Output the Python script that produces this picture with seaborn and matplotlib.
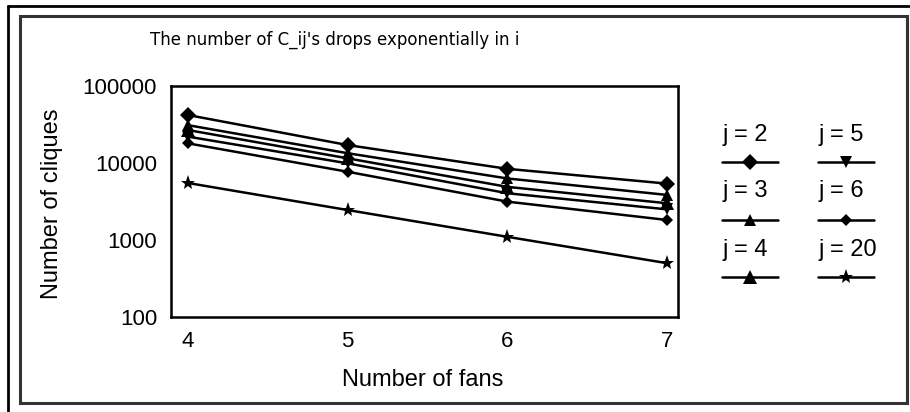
import numpy as np
import pandas as pd
import matplotlib.pyplot as plt
import seaborn as sns
from matplotlib.lines import Line2D
from matplotlib.patches import Rectangle

# data
fans = [4, 5, 6, 7]
j_labels = ['j = 2', 'j = 3', 'j = 4', 'j = 5', 'j = 6', 'j = 20']
cliques_j2 = [42000, 17100, 8400, 5400]
cliques_j3 = [31000, 13400, 6300, 3850]
cliques_j4 = [26800, 11500, 4900, 3000]
cliques_j5 = [22000, 9900, 4050, 2500]
cliques_j6 = [18000, 7700, 3150, 1820]
cliques_j20 = [5500, 2450, 1100, 500]
y_ticks = [100, 1000, 10000, 100000]

series = [cliques_j2, cliques_j3, cliques_j4, cliques_j5, cliques_j6, cliques_j20]
df = pd.DataFrame({
    'fans': fans * len(j_labels),
    'cliques': np.concatenate(series),
    'j': np.repeat(j_labels, len(fans)),
})

sns.set_theme(style='white')
plt.rcParams['font.family'] = ['Liberation Sans', 'DejaVu Sans']
plt.rcParams['text.color'] = 'black'
plt.rcParams['axes.labelcolor'] = 'black'

W, H = 910, 412
def fx(x):
    return x / W
def fy(y):
    return 1 - y / H

markers = {'j = 2': 'D', 'j = 3': '^', 'j = 4': '^', 'j = 5': 'v', 'j = 6': 'D', 'j = 20': '*'}
msizes = {'j = 2': 8, 'j = 3': 8, 'j = 4': 10, 'j = 5': 9, 'j = 6': 6, 'j = 20': 11}

fig = plt.figure(figsize=(W / 100, H / 100), dpi=100)
ax = fig.add_axes([fx(171), fy(317), fx(678 - 171), (317 - 86) / H])

for lab in j_labels:
    sub = df[df['j'] == lab]
    sns.lineplot(data=sub, x='fans', y='cliques', color='black', lw=1.8,
                 marker=markers[lab], markersize=msizes[lab], markeredgewidth=0,
                 ax=ax, legend=False)

ax.set_yscale('log')
ax.set_ylim(100, 100000)
ax.set_xlim(3.894, 7.069)
ax.set_xticks(fans)
ax.set_xticklabels([str(f) for f in fans])
ax.set_yticks(y_ticks)
ax.set_yticklabels([str(t) for t in y_ticks])
ax.yaxis.set_minor_locator(plt.NullLocator())
ax.tick_params(length=0, labelsize=16, colors='black', pad=10)
ax.set_xlabel('Number of fans', fontsize=17, va='center')
ax.set_ylabel('Number of cliques', fontsize=17, va='center')
ax.xaxis.set_label_coords((423 - 171) / 507, (317 - 380) / 231)
ax.yaxis.set_label_coords((52 - 171) / 507, (317 - 204) / 231)
for s in ax.spines.values():
    s.set_color('black')
    s.set_linewidth(1.8)

fig.text(fx(150), fy(40), "The number of C_ij's drops exponentially in i",
         fontsize=12, ha='left', va='center', family=['DejaVu Sans'])

# custom legend: label above a line sample
col_x = [722, 818]
row_text = [135, 191, 250]
row_line = [162, 220, 277]
for i, lab in enumerate(j_labels):
    c = i // 3
    r = i % 3
    fig.text(fx(col_x[c]), fy(row_text[r]), lab, fontsize=17, ha='left', va='center')
    fig.add_artist(Line2D([fx(col_x[c]), fx(col_x[c] + 56)], [fy(row_line[r])] * 2,
                          color='black', lw=1.8, transform=fig.transFigure))
    fig.add_artist(Line2D([fx(col_x[c] + 28)], [fy(row_line[r])], marker=markers[lab],
                          markersize=msizes[lab], color='black', markeredgewidth=0,
                          transform=fig.transFigure))

# frames
fig.add_artist(Rectangle((fx(20), fy(403)), fx(907 - 20), (403 - 16) / H, fill=False,
                         edgecolor='#333333', lw=2.2, transform=fig.transFigure))
fig.add_artist(Line2D([fx(8), 1], [fy(6), fy(6)], color='black', lw=2, transform=fig.transFigure))
fig.add_artist(Line2D([fx(8), fx(8)], [fy(6), 0], color='black', lw=2, transform=fig.transFigure))

fig.savefig('out.png', dpi=100)
